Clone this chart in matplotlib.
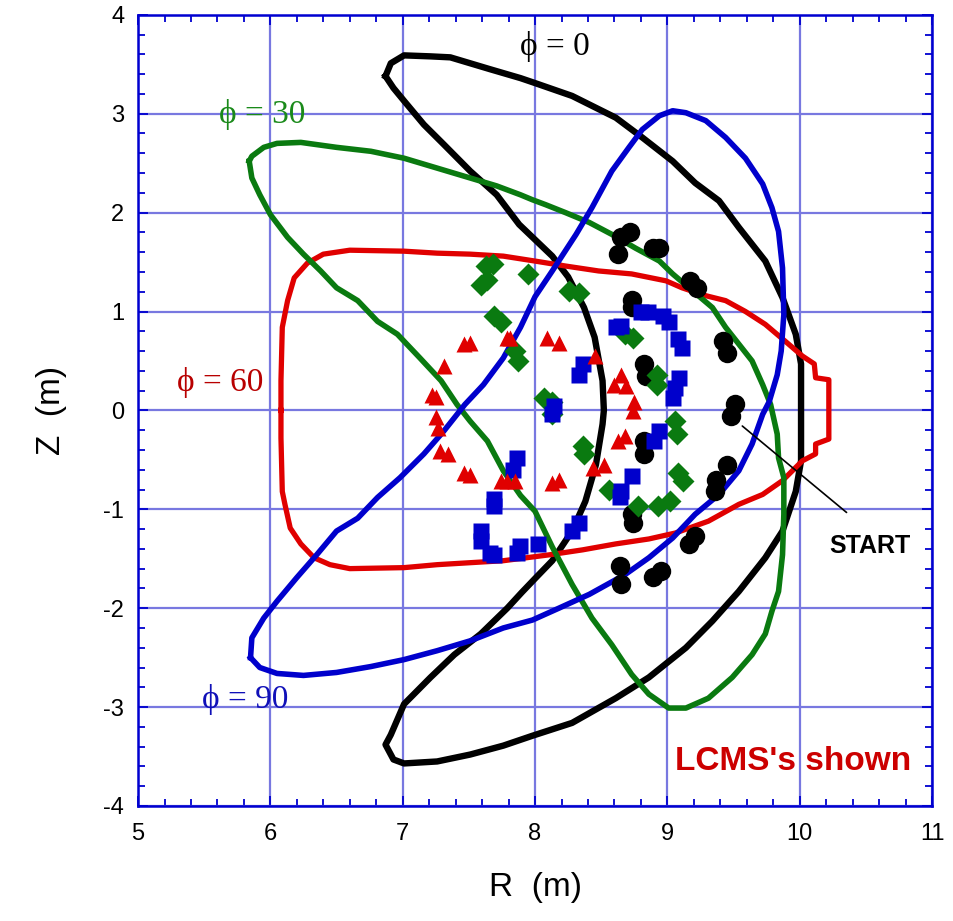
import numpy as np
import matplotlib
matplotlib.use('Agg')
import matplotlib.pyplot as plt
from matplotlib.ticker import MultipleLocator

plt.rcParams['axes.unicode_minus'] = False

# LCMS cross sections, R and Z in metres
r_phi0 = [6.87, 6.91, 7.01, 7.21, 7.36, 7.51, 7.66, 7.89, 8.00, 8.28,
          8.61, 8.81, 9.04, 9.21, 9.39, 9.54, 9.74, 9.87, 9.97, 10.01,
          10.01, 10.01, 9.97, 9.87, 9.74, 9.54, 9.34, 9.14, 8.86, 8.61,
          8.28, 7.98, 7.76, 7.51, 7.26, 7.01, 6.93, 6.87, 6.91, 7.01,
          7.21, 7.39, 7.59, 7.79, 7.90, 8.00, 8.13, 8.28, 8.38, 8.46,
          8.51, 8.52, 8.51, 8.45, 8.37, 8.25, 8.13, 7.88, 7.71, 7.51,
          7.31, 7.16, 7.01, 6.93, 6.87]
z_phi0 = [3.38, 3.51, 3.59, 3.58, 3.57, 3.51, 3.45, 3.36, 3.31, 3.18,
          2.96, 2.76, 2.52, 2.30, 2.12, 1.85, 1.51, 1.14, 0.77, 0.47,
          0.00, -0.51, -0.82, -1.22, -1.49, -1.83, -2.13, -2.40, -2.70, -2.91,
          -3.16, -3.29, -3.39, -3.48, -3.55, -3.57, -3.53, -3.38, -3.28, -2.97,
          -2.70, -2.47, -2.26, -2.00, -1.84, -1.70, -1.52, -1.22, -0.92, -0.55,
          -0.14, 0.00, 0.30, 0.74, 1.04, 1.35, 1.56, 1.88, 2.18, 2.42,
          2.69, 2.89, 3.13, 3.26, 3.38]

r_phi30 = [5.84, 5.86, 5.92, 6.00, 6.13, 6.25, 6.38, 6.50, 6.66, 6.81,
           6.96, 7.13, 7.29, 7.41, 7.51, 7.64, 7.76, 7.89, 8.00, 8.13,
           8.28, 8.43, 8.58, 8.73, 8.86, 9.01, 9.14, 9.31, 9.49, 9.64,
           9.74, 9.79, 9.84, 9.87, 9.88, 9.88, 9.84, 9.83, 9.78, 9.72,
           9.64, 9.54, 9.44, 9.34, 9.19, 9.04, 8.94, 8.76, 8.58, 8.41,
           8.23, 8.08, 7.98, 7.89, 7.71, 7.51, 7.26, 7.01, 6.76, 6.50,
           6.23, 6.05, 5.95, 5.86, 5.84]
z_phi30 = [2.52, 2.35, 2.18, 1.98, 1.75, 1.58, 1.41, 1.24, 1.11, 0.90,
           0.77, 0.53, 0.30, 0.06, -0.11, -0.31, -0.61, -0.86, -1.02, -1.38,
           -1.76, -2.10, -2.37, -2.67, -2.87, -3.01, -3.01, -2.91, -2.70, -2.47,
           -2.26, -2.03, -1.83, -1.46, -1.05, -0.68, -0.48, -0.24, 0.06, 0.26,
           0.50, 0.67, 0.84, 1.04, 1.21, 1.38, 1.51, 1.64, 1.78, 1.90,
           2.00, 2.08, 2.13, 2.18, 2.27, 2.35, 2.45, 2.55, 2.62, 2.66,
           2.71, 2.70, 2.66, 2.57, 2.52]

r_phi60 = [6.08, 6.08, 6.09, 6.13, 6.18, 6.28, 6.40, 6.60, 7.01, 7.26,
           7.51, 7.76, 8.00, 8.23, 8.48, 8.73, 8.99, 9.11, 9.29, 9.44,
           9.59, 9.74, 9.89, 10.02, 10.11, 10.12, 10.22, 10.22, 10.12, 10.12,
           10.02, 9.87, 9.72, 9.54, 9.31, 9.06, 8.86, 8.61, 8.36, 8.11,
           7.76, 7.51, 7.26, 7.01, 6.60, 6.45, 6.33, 6.23, 6.15, 6.11,
           6.09, 6.08, 6.08]
z_phi60 = [0.00, 0.30, 0.84, 1.11, 1.34, 1.49, 1.58, 1.62, 1.61, 1.59,
           1.58, 1.56, 1.51, 1.46, 1.41, 1.38, 1.31, 1.24, 1.16, 1.11,
           1.00, 0.87, 0.70, 0.55, 0.47, 0.33, 0.31, -0.29, -0.34, -0.44,
           -0.51, -0.71, -0.85, -0.95, -1.12, -1.24, -1.30, -1.35, -1.41, -1.46,
           -1.52, -1.54, -1.56, -1.59, -1.60, -1.56, -1.49, -1.35, -1.19, -0.95,
           -0.82, -0.28, 0.00]

r_phi90 = [5.85, 5.86, 5.95, 6.05, 6.20, 6.35, 6.50, 6.66, 6.81, 6.98,
           7.16, 7.31, 7.47, 7.61, 7.76, 7.89, 8.00, 8.13, 8.31, 8.43,
           8.58, 8.71, 8.81, 8.94, 9.04, 9.14, 9.29, 9.44, 9.59, 9.72,
           9.79, 9.84, 9.87, 9.88, 9.86, 9.83, 9.77, 9.72, 9.64, 9.54,
           9.39, 9.21, 9.04, 8.86, 8.68, 8.41, 8.18, 7.98, 7.76, 7.51,
           7.26, 7.01, 6.76, 6.50, 6.25, 6.05, 5.92, 5.85]
z_phi90 = [-2.50, -2.30, -2.10, -1.93, -1.69, -1.46, -1.22, -1.09, -0.88, -0.68,
           -0.44, -0.21, 0.06, 0.26, 0.53, 0.84, 1.15, 1.41, 1.78, 2.05,
           2.42, 2.66, 2.84, 2.98, 3.03, 3.01, 2.93, 2.76, 2.55, 2.29,
           2.05, 1.81, 1.44, 0.97, 0.60, 0.36, 0.09, -0.04, -0.34, -0.61,
           -0.85, -1.05, -1.29, -1.49, -1.66, -1.86, -2.00, -2.12, -2.20, -2.33,
           -2.43, -2.52, -2.59, -2.65, -2.68, -2.66, -2.60, -2.50]

# puncture points of the field line
r_circ = [8.65, 8.63, 8.72, 8.89, 8.94, 9.17, 9.22, 8.73, 8.73, 8.82,
          8.84, 9.42, 9.45, 9.51, 9.48, 8.82, 8.82, 9.45, 9.37, 9.36,
          8.73, 8.74, 9.21, 9.16, 8.64, 8.65, 8.89, 8.95]
z_circ = [1.75, 1.58, 1.80, 1.64, 1.64, 1.31, 1.24, 1.12, 1.05, 0.47,
          0.35, 0.70, 0.58, 0.06, -0.06, -0.31, -0.44, -0.55, -0.70, -0.82,
          -1.05, -1.14, -1.27, -1.35, -1.57, -1.76, -1.68, -1.62]

r_diam = [7.63, 7.68, 7.59, 7.64, 7.95, 7.69, 7.74, 7.85, 7.87, 8.07,
          8.13, 8.13, 8.36, 8.37, 8.26, 8.33, 8.68, 8.74, 8.92, 8.92,
          9.06, 9.07, 9.08, 9.12, 8.56, 8.78, 8.93, 9.02]
z_diam = [1.46, 1.48, 1.27, 1.32, 1.38, 0.95, 0.89, 0.60, 0.50, 0.13,
          0.08, -0.04, -0.36, -0.44, 1.21, 1.19, 0.77, 0.73, 0.36, 0.26,
          -0.11, -0.24, -0.63, -0.71, -0.80, -0.97, -0.97, -0.92]

r_sq = [8.36, 8.33, 8.14, 8.13, 7.86, 7.83, 7.69, 7.69, 7.59, 7.59,
        7.66, 7.69, 7.86, 7.89, 8.02, 8.28, 8.33, 8.80, 8.85, 8.97,
        9.01, 8.61, 8.65, 9.08, 9.11, 9.09, 9.06, 9.04, 8.94, 8.90,
        8.73, 8.65, 8.64]
z_sq = [0.47, 0.36, 0.04, -0.04, -0.48, -0.60, -0.90, -0.97, -1.22, -1.32,
        -1.44, -1.46, -1.44, -1.37, -1.35, -1.22, -1.14, 1.00, 0.99, 0.95,
        0.89, 0.84, 0.85, 0.72, 0.63, 0.33, 0.23, 0.13, -0.21, -0.31,
        -0.66, -0.82, -0.88]

r_tri = [7.46, 7.51, 7.31, 7.22, 7.25, 7.25, 7.27, 7.28, 7.34, 7.46,
         7.51, 7.74, 7.79, 7.85, 7.79, 7.81, 8.09, 8.18, 8.13, 8.18,
         8.45, 8.65, 8.60, 8.69, 8.75, 8.74, 8.68, 8.63, 8.44, 8.52]
z_tri = [0.67, 0.68, 0.45, 0.16, 0.14, -0.07, -0.18, -0.41, -0.44, -0.63,
         -0.65, -0.71, -0.71, -0.71, 0.73, 0.73, 0.73, 0.68, -0.73, -0.70,
         0.55, 0.36, 0.26, 0.25, 0.08, -0.01, -0.26, -0.31, -0.58, -0.55]

frame_blue = '#0000d0'
grid_blue = '#7878e0'
c_black = '#000000'
c_green = '#0a7a10'
c_red = '#e00000'
c_blue = '#0000cc'

fig = plt.figure(figsize=(9.54, 9.21), dpi=100)
ax = fig.add_axes([0.1447, 0.1249, 0.8323, 0.8590])

ax.plot(r_phi0, z_phi0, color=c_black, lw=4.6, solid_joinstyle='round', zorder=3)
ax.plot(r_phi60, z_phi60, color=c_red, lw=3.8, solid_joinstyle='round', zorder=3)
ax.plot(r_phi30, z_phi30, color=c_green, lw=4.0, solid_joinstyle='round', zorder=3)
ax.plot(r_phi90, z_phi90, color=c_blue, lw=4.0, solid_joinstyle='round', zorder=3)

ax.plot(r_circ, z_circ, 'o', color=c_black, ms=14, mec='none', zorder=4)
ax.plot(r_diam, z_diam, 'D', color=c_green, ms=11.5, mec='none', zorder=5)
ax.plot(r_sq, z_sq, 's', color=c_blue, ms=11, mec='none', zorder=6)
ax.plot(r_tri, z_tri, '^', color=c_red, ms=11, mec='none', zorder=7)

serif = ['Liberation Serif', 'DejaVu Serif']
ax.text(8.15, 3.68, 'ϕ = 0', color=c_black, fontsize=24, family=serif,
        ha='center', va='center', zorder=8)
ax.text(5.94, 2.99, 'ϕ = 30', color='#1a8a1a', fontsize=24, family=serif,
        ha='center', va='center', zorder=8)
ax.text(5.62, 0.28, 'ϕ = 60', color='#b80000', fontsize=24, family=serif,
        ha='center', va='center', zorder=8)
ax.text(5.81, -2.92, 'ϕ = 90', color='#1010b8', fontsize=24, family=serif,
        ha='center', va='center', zorder=8)

ax.annotate('', xy=(9.55, -0.14), xytext=(10.37, -1.05),
            arrowprops=dict(arrowstyle='-', color='black', lw=1.2), zorder=8)
ax.text(10.53, -1.37, 'START', color='black', fontsize=18, fontweight='bold',
        family='Liberation Sans', ha='center', va='center', zorder=8)
ax.text(9.95, -3.55, "LCMS's shown", color='#cc0000', fontsize=24, fontweight='bold',
        family='Liberation Sans', ha='center', va='center', zorder=8)

ax.set_xlim(5, 11)
ax.set_ylim(-4, 4)
ax.xaxis.set_major_locator(MultipleLocator(1))
ax.xaxis.set_minor_locator(MultipleLocator(0.2))
ax.yaxis.set_major_locator(MultipleLocator(1))
ax.yaxis.set_minor_locator(MultipleLocator(0.2))
ax.grid(True, which='major', color=grid_blue, lw=1.6, zorder=1)
ax.set_axisbelow(True)

for s in ax.spines.values():
    s.set_color(frame_blue)
    s.set_linewidth(1.8)
ax.tick_params(which='both', direction='in', top=True, right=True,
               color=frame_blue, width=1.3)
ax.tick_params(which='major', length=7)
ax.tick_params(which='minor', length=5)
ax.tick_params(axis='x', which='major', pad=12, labelsize=17)
ax.tick_params(axis='y', which='major', pad=10, labelsize=17)
for lab in ax.get_xticklabels() + ax.get_yticklabels():
    lab.set_family('Liberation Sans')

ax.set_xlabel('R  (m)', fontsize=24, family='Liberation Sans', labelpad=20)
ax.set_ylabel('Z  (m)', fontsize=24, family='Liberation Sans', labelpad=26)

fig.savefig('out.png', dpi=100)
